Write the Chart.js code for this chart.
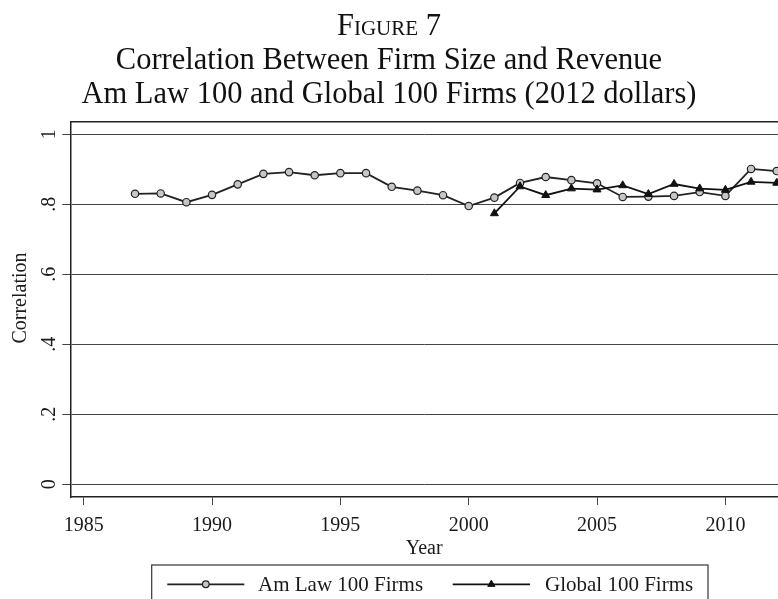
<!DOCTYPE html>
<html><head><meta charset="utf-8">
<script src="https://cdn.jsdelivr.net/npm/chart.js@4.4.0/dist/chart.umd.min.js"></script>
<style>html,body{margin:0;padding:0;background:#fff;overflow:hidden}#wrap{position:relative;width:778px;height:599px}</style>
</head><body><div id="wrap"><canvas id="c" width="778" height="599"></canvas></div>
<script>
const amLawYears = [1987,1988,1989,1990,1991,1992,1993,1994,1995,1996,1997,1998,1999,2000,2001,2002,2003,2004,2005,2006,2007,2008,2009,2010,2011,2012];
const amLawValues = [0.830,0.831,0.806,0.827,0.857,0.887,0.892,0.883,0.889,0.889,0.850,0.839,0.826,0.795,0.819,0.861,0.878,0.869,0.860,0.821,0.822,0.824,0.835,0.824,0.901,0.895];
const globalYears = [2001,2002,2003,2004,2005,2006,2007,2008,2009,2010,2011,2012];
const globalValues = [0.774,0.851,0.826,0.845,0.842,0.854,0.829,0.858,0.845,0.841,0.864,0.861];
const xTickValues = [1985,1990,1995,2000,2005,2010];
const xTickLabels = ['1985','1990','1995','2000','2005','2010'];
const yTickValues = [0,0.2,0.4,0.6,0.8,1];
const yTickLabels = ['0','.2','.4','.6','.8','1'];
const seriesNames = ['Am Law 100 Firms','Global 100 Firms'];
const titleText = 'Figure 7';
const subtitleLines = ['Correlation Between Firm Size and Revenue','Am Law 100 and Global 100 Firms (2012 dollars)'];
const xTitle = 'Year';
const yTitle = 'Correlation';

const SERIF = "'Liberation Serif','Times New Roman',serif";
const INK = '#1a1a1a';

const decor = {
  id: 'decor',
  afterDraw(chart) {
    const ctx = chart.ctx, a = chart.chartArea, ys = chart.scales.y;
    ctx.save();
    // top frame line
    ctx.strokeStyle = '#222'; ctx.lineWidth = 1.5;
    ctx.beginPath(); ctx.moveTo(a.left, a.top); ctx.lineTo(a.right, a.top); ctx.stroke();
    // rotated y tick labels
    ctx.fillStyle = INK;
    ctx.font = '20px ' + SERIF;
    ctx.textAlign = 'center'; ctx.textBaseline = 'alphabetic';
    yTickValues.forEach((v, i) => {
      const py = ys.getPixelForValue(v);
      ctx.save(); ctx.translate(55, py); ctx.rotate(-Math.PI / 2);
      ctx.fillText(yTickLabels[i], 0, 0); ctx.restore();
    });
    // y title
    ctx.save(); ctx.translate(26, 298); ctx.rotate(-Math.PI / 2);
    ctx.fillText(yTitle, 0, 0); ctx.restore();
    // legend
    ctx.strokeStyle = '#333'; ctx.lineWidth = 1.2;
    ctx.strokeRect(151.7, 565, 556.3, 60);
    const items = [
      {ds: chart.data.datasets[0], x1: 167.3, x2: 244.3, tx: 258},
      {ds: chart.data.datasets[1], x1: 452.7, x2: 530, tx: 545}
    ];
    items.forEach(it => {
      const d = it.ds, yy = 584.3;
      ctx.strokeStyle = d.borderColor; ctx.lineWidth = 1.8;
      ctx.beginPath(); ctx.moveTo(it.x1, yy); ctx.lineTo(it.x2, yy); ctx.stroke();
      ctx.fillStyle = d.pointBackgroundColor; ctx.strokeStyle = d.pointBorderColor; ctx.lineWidth = d.pointBorderWidth;
      Chart.helpers.drawPoint(ctx, {pointStyle: d.pointStyle, radius: d.pointRadius * 0.9, borderWidth: d.pointBorderWidth, rotation: 0}, (it.x1 + it.x2) / 2, yy);
      ctx.fillStyle = INK; ctx.textAlign = 'left'; ctx.textBaseline = 'alphabetic';
      ctx.font = '21px ' + SERIF;
      ctx.fillText(d.label, it.tx, 590.7);
    });
    ctx.restore();
  }
};

new Chart(document.getElementById('c'), {
  type: 'line',
  data: {
    datasets: [
      {
        label: seriesNames[0],
        data: amLawYears.map((y, i) => ({x: y, y: amLawValues[i]})),
        borderColor: '#222', borderWidth: 1.8,
        pointStyle: 'circle', pointRadius: 3.7,
        pointBackgroundColor: '#c6c6c6', pointBorderColor: '#222', pointBorderWidth: 1.2,
        tension: 0, order: 2
      },
      {
        label: seriesNames[1],
        data: globalYears.map((y, i) => ({x: y, y: globalValues[i]})),
        borderColor: '#111', borderWidth: 1.8,
        pointStyle: 'triangle', pointRadius: 4.6,
        pointBackgroundColor: '#111', pointBorderColor: '#111', pointBorderWidth: 1,
        tension: 0, order: 1
      }
    ]
  },
  options: {
    responsive: false, animation: false, devicePixelRatio: 1,
    layout: {autoPadding: false, padding: {left: 0, right: 0, top: 0, bottom: 34}},
    plugins: {
      legend: {display: false},
      tooltip: {enabled: false},
      title: {display: true, text: titleText, color: '#111',
        font: {family: SERIF, size: 30.5, weight: 'small-caps', lineHeight: 34 / 30.5},
        padding: {top: 9.7, bottom: 0}},
      subtitle: {display: true, text: subtitleLines, color: '#111',
        font: {family: SERIF, size: 30.5, lineHeight: 34 / 30.5},
        padding: {top: 0, bottom: 10}}
    },
    scales: {
      x: {
        type: 'linear', position: 'bottom', min: 1984.478, max: 2012.05,
        afterBuildTicks: s => { s.ticks = xTickValues.map(v => ({value: v})); },
        afterFit: s => { s.height = 68; },
        ticks: {autoSkip: false, maxRotation: 0, minRotation: 0, padding: 9.2, color: INK,
          font: {family: SERIF, size: 20},
          callback: v => xTickLabels[xTickValues.indexOf(v)]},
        grid: {display: true, drawOnChartArea: false, drawTicks: true, tickLength: 8, color: '#444', lineWidth: 1},
        border: {display: true, color: '#222', width: 1.5},
        title: {display: true, text: xTitle, color: INK, font: {family: SERIF, size: 20, lineHeight: 1.2}, padding: {top: 0, bottom: 4.1}}
      },
      y: {
        type: 'linear', position: 'left', min: -0.0363, max: 1.036,
        afterBuildTicks: s => { s.ticks = yTickValues.map(v => ({value: v})); },
        afterFit: s => { s.width = 70.3; },
        ticks: {display: false},
        grid: {display: true, drawTicks: true, tickLength: 8, color: '#444', lineWidth: 1},
        border: {display: true, color: '#222', width: 1.5}
      }
    }
  },
  plugins: [decor]
});
</script></body></html>
